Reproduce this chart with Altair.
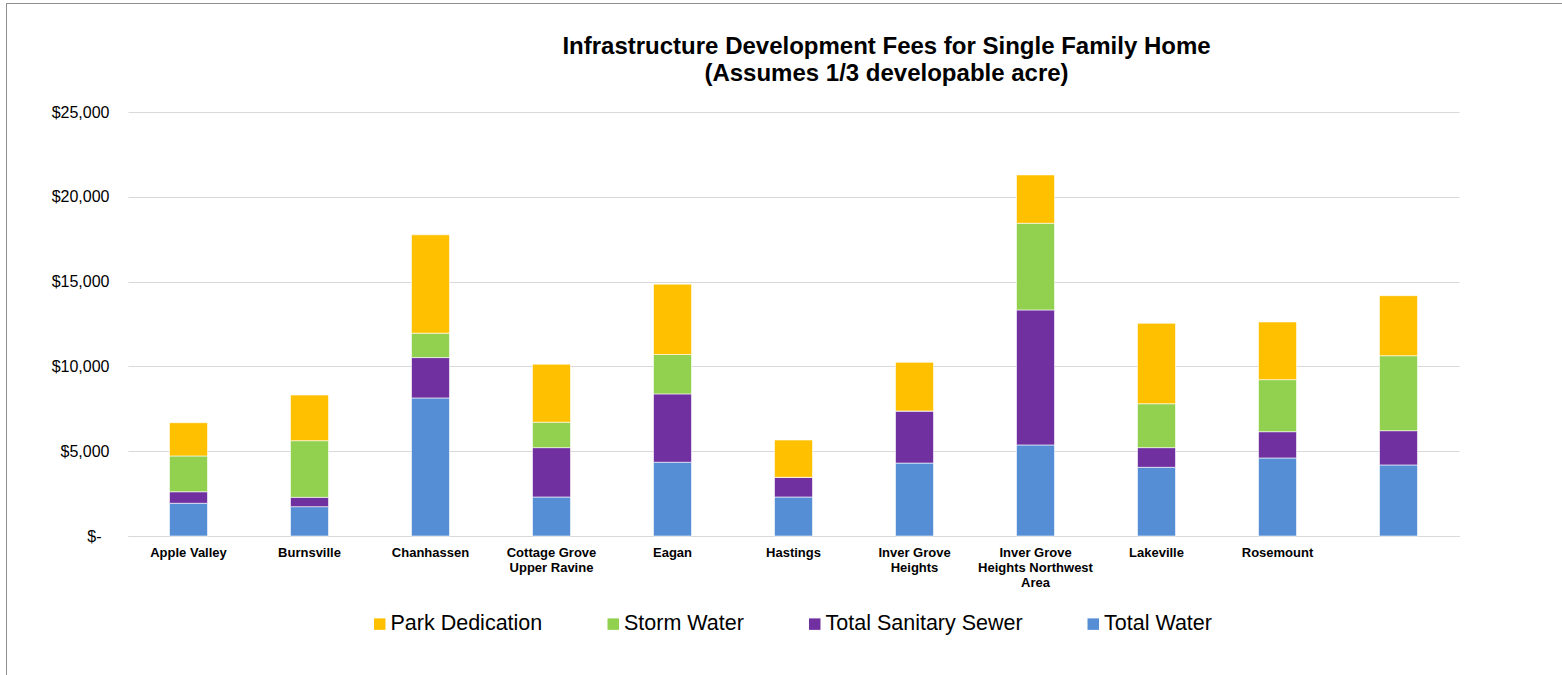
import altair as alt
import pandas as pd

# Cities (line breaks mark where the axis label wraps); the last column has no name
cities = [
    "Apple Valley",
    "Burnsville",
    "Chanhassen",
    "Cottage Grove\nUpper Ravine",
    "Eagan",
    "Hastings",
    "Inver Grove\nHeights",
    "Inver Grove\nHeights Northwest\nArea",
    "Lakeville",
    "Rosemount",
    " ",
]

# Fee components in dollars, stacked bottom to top
total_water = [1930, 1730, 8140, 2300, 4350, 2300, 4300, 5370, 4050, 4600, 4190]
total_sanitary_sewer = [680, 550, 2380, 2910, 4030, 1160, 3070, 7960, 1160, 1550, 2020]
storm_water = [2110, 3340, 1440, 1500, 2320, 0, 0, 5110, 2590, 3070, 4420]
park_dedication = [1960, 2690, 5800, 3420, 4150, 2200, 2870, 2850, 4740, 3400, 3540]

series = ["Total Water", "Total Sanitary Sewer", "Storm Water", "Park Dedication"]
values = [total_water, total_sanitary_sewer, storm_water, park_dedication]
legend_order = ["Park Dedication", "Storm Water", "Total Sanitary Sewer", "Total Water"]
colors = ["#FFC000", "#92D050", "#7030A0", "#558ED5"]

rows = []
for stack_pos, (name, vals) in enumerate(zip(series, values)):
    for city, v in zip(cities, vals):
        rows.append({"City": city, "Fee": name, "Amount": v, "stack": stack_pos})
df = pd.DataFrame(rows)

FONT = "Liberation Sans"
PLOT_W, PLOT_H = 1331, 424
PAD_L, PAD_T = 128, 112

bars = alt.Chart(df).mark_bar(stroke="#ffffff", strokeWidth=0.6).encode(
    x=alt.X(
        "City:N",
        sort=cities,
        scale=alt.Scale(paddingInner=0.686, paddingOuter=0.343),
        axis=alt.Axis(
            title=None,
            labelAngle=0,
            labelExpr="split(datum.label, '\\n')",
            labelFont=FONT,
            labelFontSize=13,
            labelFontWeight="bold",
            labelColor="#000000",
            labelLineHeight=15,
            labelPadding=10,
            ticks=False,
            domainColor="#d9d9d9",
            domainWidth=1,
            grid=False,
        ),
    ),
    y=alt.Y(
        "sum(Amount):Q",
        scale=alt.Scale(domain=[0, 25000], nice=False),
        axis=alt.Axis(
            title=None,
            values=[0, 5000, 10000, 15000, 20000, 25000],
            labelExpr="datum.value == 0 ? '$-' : '$' + format(datum.value, ',')",
            labelFont=FONT,
            labelFontSize=16,
            labelColor="#000000",
            # accounting-style zero sits a little further from the axis
            labelPadding={"condition": {"test": "datum.value == 0", "value": 27}, "value": 19},
            ticks=False,
            domain=False,
            gridColor="#d9d9d9",
            gridWidth=1,
        ),
    ),
    color=alt.Color(
        "Fee:N",
        scale=alt.Scale(domain=legend_order, range=colors),
        legend=alt.Legend(
            title=None,
            orient="none",
            direction="horizontal",
            legendX=241,
            legendY=501,
            symbolType="square",
            symbolSize=132,
            symbolStrokeWidth=0,
            labelFont=FONT,
            labelFontSize=21.5,
            labelColor="#000000",
            labelLimit=400,
            labelOffset=0,
            columnPadding=59.5,
            padding=0,
        ),
    ),
    order=alt.Order("stack:Q", sort="ascending"),
)

# Thin grey frame along the top and left edges of the chart
frame_data = alt.Data(values=[{"edge": "top"}])
top_edge = alt.Chart(frame_data).mark_rule(color="#8f8f8f", strokeWidth=1).encode(
    x=alt.value(-122), x2=alt.value(1562 - PAD_L), y=alt.value(-108.5)
)
left_edge = alt.Chart(frame_data).mark_rule(color="#8f8f8f", strokeWidth=1).encode(
    x=alt.value(-121.5), y=alt.value(-109), y2=alt.value(675 - PAD_T)
)

chart = (
    alt.layer(bars, top_edge, left_edge)
    .properties(
        width=PLOT_W,
        height=PLOT_H,
        autosize=alt.AutoSizeParams(type="none"),
        padding={"left": PAD_L, "top": PAD_T, "right": 1562 - PAD_L - PLOT_W, "bottom": 675 - PAD_T - PLOT_H},
        title=alt.TitleParams(
            text=["Infrastructure Development Fees for Single Family Home", "(Assumes 1/3 developable acre)"],
            font=FONT,
            fontSize=24,
            fontWeight="bold",
            color="#000000",
            anchor="middle",
            dx=93,
            offset=-83,
            lineHeight=27,
        ),
    )
    .configure(background="#ffffff")
    .configure_view(stroke="transparent", strokeWidth=0)
)

chart.save("out.html", embed_options={"renderer": "svg", "actions": False})
